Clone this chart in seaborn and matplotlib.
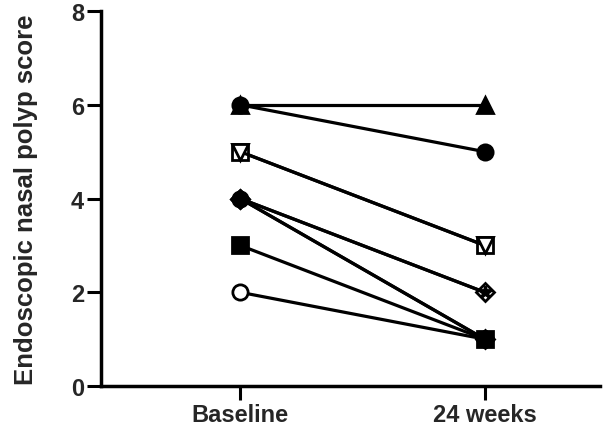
import pandas as pd
import seaborn as sns
import matplotlib.pyplot as plt

timepoints = ['Baseline', '24 weeks']
baseline = [6, 6, 5, 5, 4, 4, 4, 4, 3, 2]
week24 = [6, 5, 3, 3, 2, 2, 1, 1, 1, 1]
markers = ['^', 'o', 's', 'v', 'D', '*', 'D', 'o', 's', 'o']
filled = [True, True, False, False, False, True, True, True, True, False]

rows = []
for i in range(len(baseline)):
    rows.append({'patient': i, 'time': 0, 'score': baseline[i]})
    rows.append({'patient': i, 'time': 1, 'score': week24[i]})
datos = pd.DataFrame(rows)

sns.set_style('ticks')
plt.rcParams['font.family'] = ['Liberation Sans', 'DejaVu Sans']
plt.rcParams['font.weight'] = 'bold'

fig = plt.figure(figsize=(6.07, 4.31), dpi=100)
ax = fig.add_axes([0.166, 0.102, 0.822, 0.870])

for i in range(len(baseline)):
    sub = datos[datos['patient'] == i]
    face = 'black' if filled[i] else 'white'
    size = 11
    if markers[i] == '*':
        size = 9
    if markers[i] == 'D':
        size = 9.5
    # marcadores rellenos encima de los abiertos
    z = 3 if filled[i] else 2
    if i == 1:
        z = 4
    sns.lineplot(x='time', y='score', data=sub, ax=ax, color='black', linewidth=2.3,
                 marker=markers[i], markersize=size, markerfacecolor=face,
                 markeredgecolor='black', markeredgewidth=2, legend=False, zorder=z)

ax.set_xlim(-0.57, 1.47)
ax.set_ylim(0, 8)
ax.set_xticks([0, 1])
ax.set_xticklabels(timepoints)
ax.set_yticks([0, 2, 4, 6, 8])
ax.set_xlabel('')
ax.set_ylabel('Endoscopic nasal polyp score', fontsize=18.5, fontweight='bold', labelpad=24)
ax.tick_params(axis='both', labelsize=17, width=2.2, length=10, color='black', pad=2)
for lab in ax.get_xticklabels() + ax.get_yticklabels():
    lab.set_fontweight('bold')
for s in ['left', 'bottom']:
    ax.spines[s].set_linewidth(2.5)
    ax.spines[s].set_color('black')
sns.despine(ax=ax)

plt.savefig('out.png', dpi=100)
plt.close()
